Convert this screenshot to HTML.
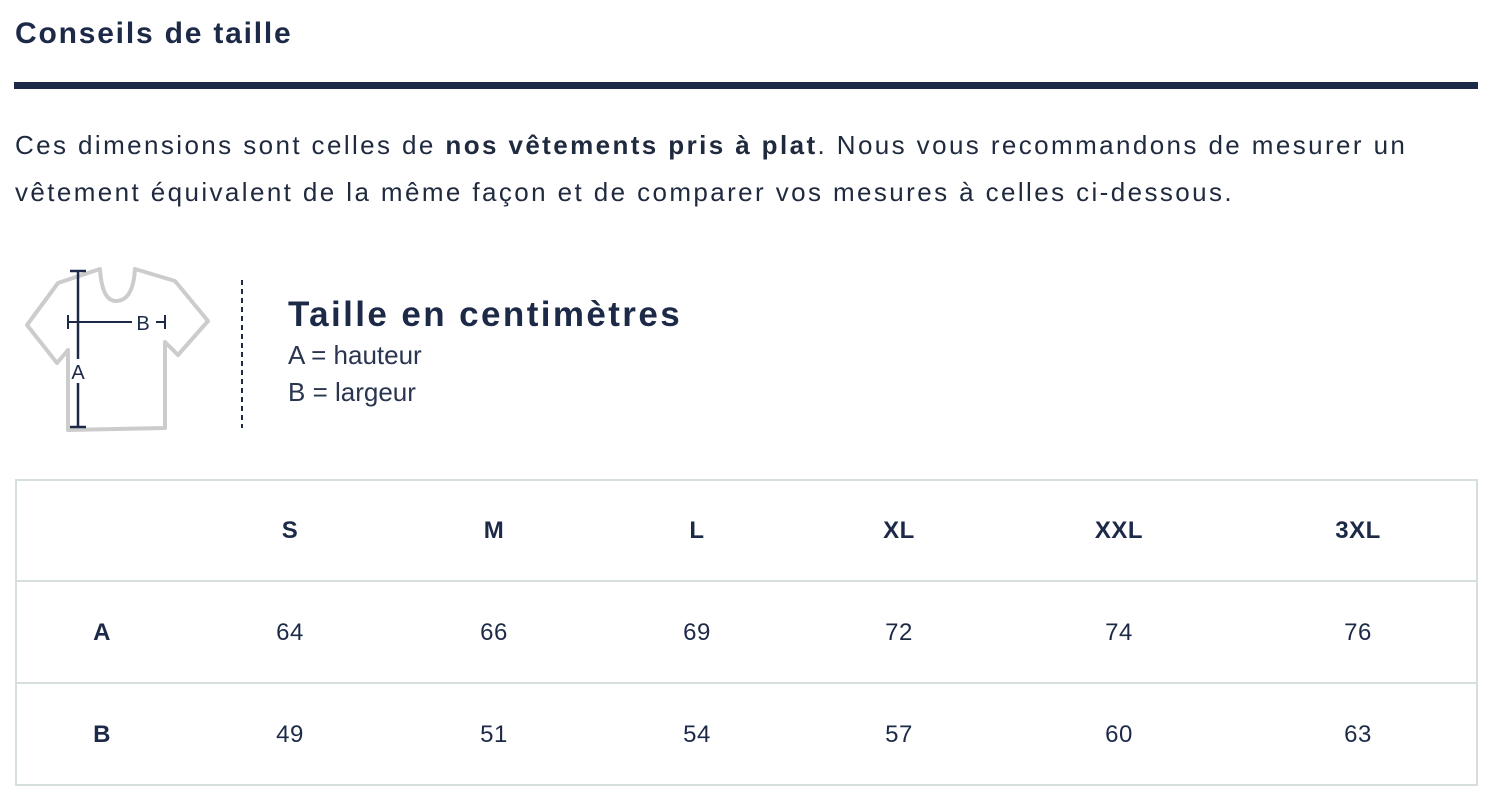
<!DOCTYPE html>
<html><head><meta charset="utf-8"><style>
*{margin:0;padding:0;box-sizing:border-box}
body{width:1494px;height:802px;background:#fff;font-family:"Liberation Sans",sans-serif;color:#1c2a48;position:relative;overflow:hidden}
.a{position:absolute;white-space:nowrap}
.c{position:absolute;transform:translate(-50%,-50%);font-size:24px;letter-spacing:0.5px}
.b{font-weight:bold}
</style></head><body>
<div class="a b" style="left:15px;top:17px;font-size:30px;letter-spacing:1.8px">Conseils de taille</div>
<div class="a" style="left:14px;top:82px;width:1464px;height:7px;background:#1c2a48"></div>
<div class="a" style="left:15px;top:122px;font-size:26px;line-height:47px;letter-spacing:2.4px;color:#1f2a3f">Ces dimensions sont celles de <b>nos vêtements pris à plat</b>. Nous vous recommandons de mesurer un<br>vêtement équivalent de la même façon et de comparer vos mesures à celles ci-dessous.</div>
<svg class="a" style="left:0;top:255px" width="260" height="185">
<path d="M68,175 L68,95 L57,108 L27,70 L58,28 L100,14 Q102,46 116,46 Q133,46 135,14 L175,26 L208,66 L178,100 L165,87 L165,173 Z" fill="none" stroke="#ccc" stroke-width="4" stroke-linejoin="round"/>
<line x1="78" y1="16" x2="78" y2="172" stroke="#1c2a48" stroke-width="2.5"/>
<line x1="70" y1="16" x2="86" y2="16" stroke="#1c2a48" stroke-width="2.5"/>
<line x1="70" y1="172" x2="86" y2="172" stroke="#1c2a48" stroke-width="2.5"/>
<line x1="68" y1="67" x2="132" y2="67" stroke="#1c2a48" stroke-width="2"/>
<line x1="68" y1="60" x2="68" y2="74" stroke="#1c2a48" stroke-width="2"/>
<line x1="156" y1="67" x2="165" y2="67" stroke="#1c2a48" stroke-width="2"/>
<line x1="165" y1="60" x2="165" y2="74" stroke="#1c2a48" stroke-width="2"/>
<text x="143" y="75" font-size="20" fill="#1c2a48" text-anchor="middle" font-family="Liberation Sans">B</text>
<rect x="70" y="104" width="16" height="24" fill="#fff"/>
<text x="78" y="124" font-size="20" fill="#1c2a48" text-anchor="middle" font-family="Liberation Sans">A</text>
<line x1="242" y1="25" x2="242" y2="173" stroke="#1c2a48" stroke-width="2" stroke-dasharray="5,4"/>
</svg>
<div class="a b" style="left:288px;top:295px;font-size:35px;letter-spacing:2.4px">Taille en centimètres</div>
<div class="a" style="left:288px;top:337px;font-size:26px;line-height:37px;color:#2a3550">A = hauteur<br>B = largeur</div>
<div class="a" style="left:15px;top:479px;width:1463px;height:307px;border:2px solid #d6dede"></div>
<div class="a" style="left:15px;top:580px;width:1463px;height:2px;background:#d6dede"></div>
<div class="a" style="left:15px;top:682px;width:1463px;height:2px;background:#d6dede"></div>
<div class="c b" style="left:290px;top:531px">S</div>
<div class="c b" style="left:494px;top:531px">M</div>
<div class="c b" style="left:697px;top:531px">L</div>
<div class="c b" style="left:899px;top:531px">XL</div>
<div class="c b" style="left:1119px;top:531px">XXL</div>
<div class="c b" style="left:1358px;top:531px">3XL</div>
<div class="c b" style="left:102px;top:633px">A</div>
<div class="c" style="left:290px;top:633px">64</div>
<div class="c" style="left:494px;top:633px">66</div>
<div class="c" style="left:697px;top:633px">69</div>
<div class="c" style="left:899px;top:633px">72</div>
<div class="c" style="left:1119px;top:633px">74</div>
<div class="c" style="left:1358px;top:633px">76</div>
<div class="c b" style="left:102px;top:735px">B</div>
<div class="c" style="left:290px;top:735px">49</div>
<div class="c" style="left:494px;top:735px">51</div>
<div class="c" style="left:697px;top:735px">54</div>
<div class="c" style="left:899px;top:735px">57</div>
<div class="c" style="left:1119px;top:735px">60</div>
<div class="c" style="left:1358px;top:735px">63</div>
</body></html>
